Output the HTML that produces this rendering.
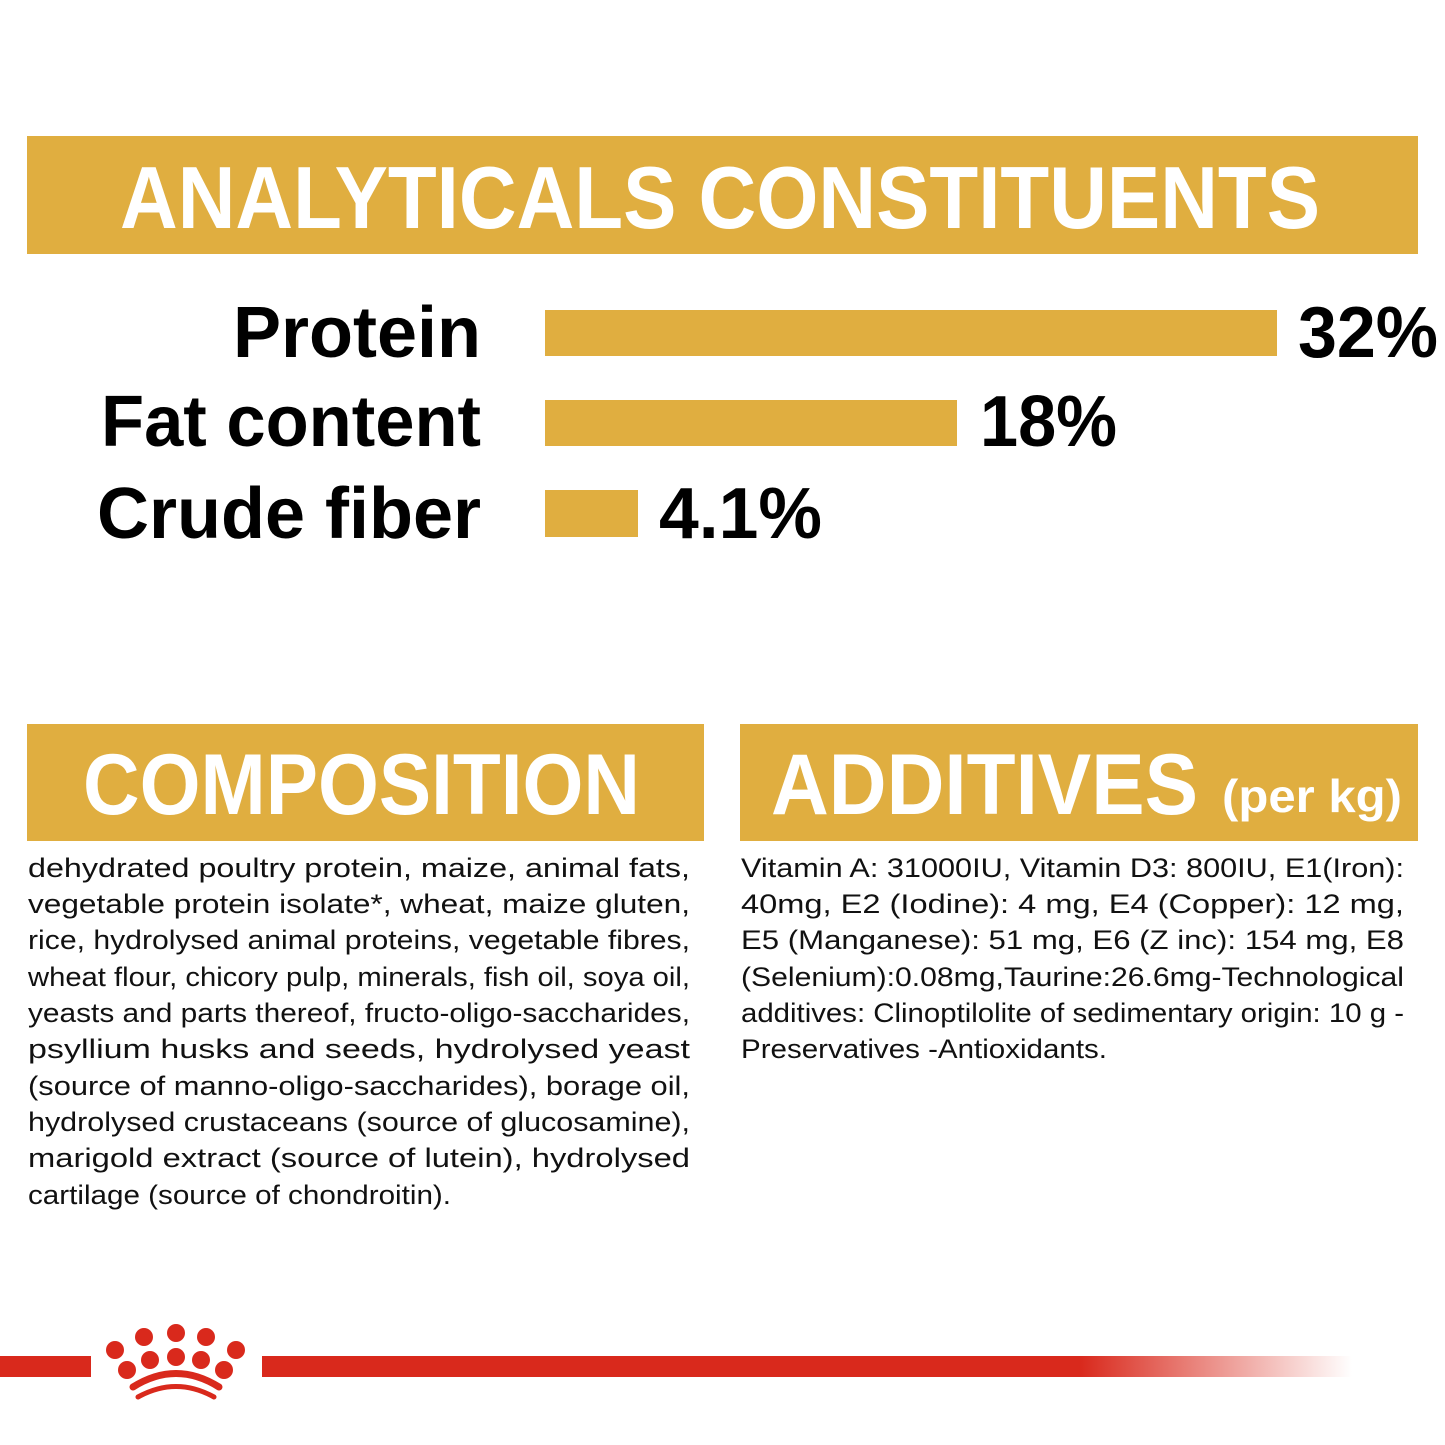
<!DOCTYPE html>
<html><head><meta charset="utf-8"><style>html,body{margin:0;padding:0;background:#fff}svg{display:block}</style></head>
<body>
<svg width="1445" height="1445" viewBox="0 0 1445 1445" xmlns="http://www.w3.org/2000/svg" font-family="'Liberation Sans', sans-serif">
<defs>
<linearGradient id="fade" x1="0" x2="1" y1="0" y2="0">
<stop offset="0" stop-color="#d9291c"/><stop offset="0.75" stop-color="#d9291c"/><stop offset="1" stop-color="#d9291c" stop-opacity="0"/>
</linearGradient>
</defs>
<rect x="27" y="136" width="1391" height="118" fill="#e0ae40"/>
<text x="120" y="228" font-size="88" font-weight="bold" fill="#fff" textLength="1200" lengthAdjust="spacingAndGlyphs">ANALYTICALS CONSTITUENTS</text>

<g font-weight="bold" font-size="72" fill="#000">
<text x="233" y="357" textLength="248" lengthAdjust="spacingAndGlyphs">Protein</text>
<text x="101" y="446" textLength="380" lengthAdjust="spacingAndGlyphs">Fat content</text>
<text x="97" y="538" textLength="384" lengthAdjust="spacingAndGlyphs">Crude fiber</text>
<text x="1298" y="357" textLength="140" lengthAdjust="spacingAndGlyphs">32%</text>
<text x="980" y="446" textLength="137" lengthAdjust="spacingAndGlyphs">18%</text>
<text x="659" y="538" textLength="163" lengthAdjust="spacingAndGlyphs">4.1%</text>
</g>
<rect x="545" y="310" width="732" height="46" fill="#e0ae40"/>
<rect x="545" y="400" width="412" height="46" fill="#e0ae40"/>
<rect x="545" y="490" width="93" height="47" fill="#e0ae40"/>

<rect x="27" y="724" width="677" height="117" fill="#e0ae40"/>
<text x="83" y="814" font-size="86" font-weight="bold" fill="#fff" textLength="557" lengthAdjust="spacingAndGlyphs">COMPOSITION</text>
<rect x="740" y="724" width="678" height="117" fill="#e0ae40"/>
<text x="771" y="814" font-size="86" font-weight="bold" fill="#fff" textLength="427" lengthAdjust="spacingAndGlyphs">ADDITIVES</text>
<text x="1222" y="812" font-size="46" font-weight="bold" fill="#fff" textLength="180" lengthAdjust="spacingAndGlyphs">(per kg)</text>

<g font-size="27" fill="#111">
<text x="28" y="877" textLength="662" lengthAdjust="spacingAndGlyphs">dehydrated poultry protein, maize, animal fats,</text>
<text x="28" y="913" textLength="662" lengthAdjust="spacingAndGlyphs">vegetable protein isolate*, wheat, maize gluten,</text>
<text x="28" y="949" textLength="662" lengthAdjust="spacingAndGlyphs">rice, hydrolysed animal proteins, vegetable fibres,</text>
<text x="28" y="986" textLength="662" lengthAdjust="spacingAndGlyphs">wheat flour, chicory pulp, minerals, fish oil, soya oil,</text>
<text x="28" y="1022" textLength="662" lengthAdjust="spacingAndGlyphs">yeasts and parts thereof, fructo-oligo-saccharides,</text>
<text x="28" y="1058" textLength="662" lengthAdjust="spacingAndGlyphs">psyllium husks and seeds, hydrolysed yeast</text>
<text x="28" y="1095" textLength="662" lengthAdjust="spacingAndGlyphs">(source of manno-oligo-saccharides), borage oil,</text>
<text x="28" y="1131" textLength="662" lengthAdjust="spacingAndGlyphs">hydrolysed crustaceans (source of glucosamine),</text>
<text x="28" y="1167" textLength="662" lengthAdjust="spacingAndGlyphs">marigold extract (source of lutein), hydrolysed</text>
<text x="28" y="1204" textLength="423" lengthAdjust="spacingAndGlyphs">cartilage (source of chondroitin).</text>

<text x="741" y="877" textLength="663" lengthAdjust="spacingAndGlyphs">Vitamin A: 31000IU, Vitamin D3: 800IU, E1(Iron):</text>
<text x="741" y="913" textLength="663" lengthAdjust="spacingAndGlyphs">40mg, E2 (Iodine): 4 mg, E4 (Copper): 12 mg,</text>
<text x="741" y="949" textLength="663" lengthAdjust="spacingAndGlyphs">E5 (Manganese): 51 mg, E6 (Z inc): 154 mg, E8</text>
<text x="741" y="986" textLength="663" lengthAdjust="spacingAndGlyphs">(Selenium):0.08mg,Taurine:26.6mg-Technological</text>
<text x="741" y="1022" textLength="663" lengthAdjust="spacingAndGlyphs">additives: Clinoptilolite of sedimentary origin: 10 g -</text>
<text x="741" y="1058" textLength="366" lengthAdjust="spacingAndGlyphs">Preservatives -Antioxidants.</text>
</g>

<rect x="0" y="1356" width="91" height="21" fill="#d9291c"/>
<rect x="262" y="1356" width="1090" height="21" fill="url(#fade)"/>
<g fill="#d9291c">
<circle cx="115" cy="1350" r="9"/>
<circle cx="144" cy="1337" r="9"/>
<circle cx="176" cy="1333" r="9"/>
<circle cx="206" cy="1337" r="9"/>
<circle cx="236" cy="1350" r="9"/>
<circle cx="127" cy="1370" r="9"/>
<circle cx="150" cy="1360" r="9"/>
<circle cx="176" cy="1357" r="9"/>
<circle cx="201" cy="1360" r="9"/>
<circle cx="224" cy="1370" r="9"/>
</g>
<path d="M133 1387 Q176 1360 219 1387" stroke="#d9291c" stroke-width="7" fill="none" stroke-linecap="round"/>
<path d="M138 1397 Q176 1376 214 1397" stroke="#d9291c" stroke-width="5" fill="none" stroke-linecap="round"/>
</svg>
</body></html>
